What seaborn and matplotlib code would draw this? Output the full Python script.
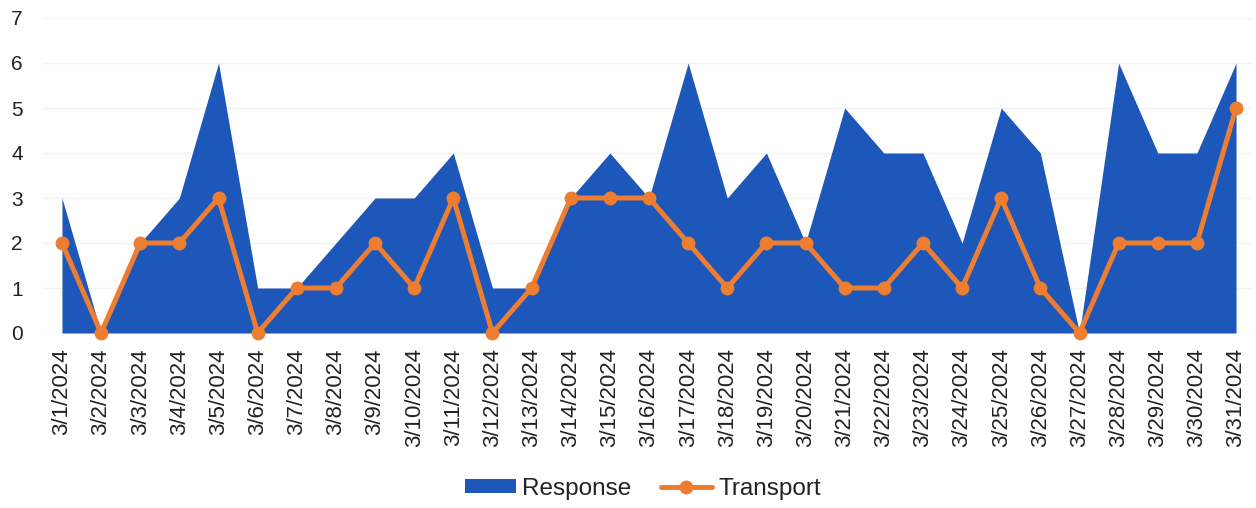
import matplotlib.pyplot as plt
import numpy as np
import pandas as pd
import seaborn as sns
from matplotlib.lines import Line2D
from matplotlib.patches import Patch

dates = [f'3/{d}/2024' for d in range(1, 32)]
response = [3, 0, 2, 3, 6, 1, 1, 2, 3, 3, 4, 1, 1, 3, 4, 3, 6, 3, 4, 2,
            5, 4, 4, 2, 5, 4, 0, 6, 4, 4, 6]
transport = [2, 0, 2, 2, 3, 0, 1, 1, 2, 1, 3, 0, 1, 3, 3, 3, 2, 1, 2, 2,
             1, 1, 2, 1, 3, 1, 0, 2, 2, 2, 5]

BLUE = '#1c57b9'
ORANGE = '#ed7d31'


def main():
    df = pd.DataFrame({'Date': dates, 'Response': response, 'Transport': transport})
    df['pos'] = np.arange(len(df))

    sns.set_style('white')
    plt.rcParams['font.family'] = ['Liberation Sans', 'DejaVu Sans']

    fig = plt.figure(figsize=(12.56, 5.08), dpi=100)
    ax = fig.add_axes([42.4 / 1256, 175 / 508, 1209.3 / 1256, 315 / 508])

    ax.fill_between(df['pos'], 0, df['Response'], color=BLUE, linewidth=0, zorder=2)
    sns.lineplot(data=df, x='pos', y='Transport', ax=ax, color=ORANGE, linewidth=3.6,
                 marker='o', markersize=10, markeredgewidth=0, zorder=3, clip_on=False)

    ax.set_xlim(-0.5, 30.4)
    ax.set_ylim(0, 7)
    ax.set_yticks(range(8))
    ax.set_xticks(df['pos'])
    ax.set_xticklabels(df['Date'], rotation=90, fontsize=16, color='#222222')
    ax.tick_params(axis='x', length=0, pad=11)
    ax.tick_params(axis='y', length=0, pad=14, labelsize=15, labelcolor='#222222')
    ax.set_xlabel('')
    ax.set_ylabel('')
    ax.yaxis.grid(True, color='#f2f2f2', linewidth=1)
    ax.set_axisbelow(True)
    for s in ax.spines.values():
        s.set_visible(False)

    handles = [Patch(facecolor=BLUE, edgecolor='none', label='Response'),
               Line2D([0], [0], color=ORANGE, linewidth=3.6, marker='o', markersize=10,
                      markeredgewidth=0, label='Transport')]
    fig.legend(handles=handles, loc='center', bbox_to_anchor=(643 / 1256, 1 - 489 / 508),
               ncol=2, frameon=False, fontsize=17.5, handlelength=2.1, handleheight=0.5,
               handletextpad=0.25, columnspacing=1.2, labelcolor='#222222')

    fig.savefig('out.png', dpi=100)


if __name__ == '__main__':
    main()
